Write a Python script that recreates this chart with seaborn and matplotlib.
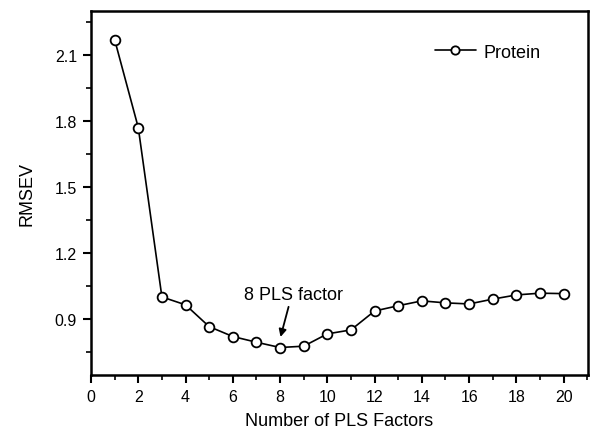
import numpy as np
import pandas as pd
import seaborn as sns
import matplotlib.pyplot as plt
from matplotlib.ticker import MultipleLocator

# valores
factors = list(range(1, 21))
rmsev = [2.17, 1.77, 1.00, 0.964, 0.865, 0.82, 0.794, 0.77, 0.776, 0.832,
         0.85, 0.936, 0.96, 0.982, 0.973, 0.968, 0.99, 1.009, 1.017, 1.015]
series_name = "Protein"

df = pd.DataFrame({"factors": factors, "rmsev": rmsev, "serie": series_name})

sns.set_style("ticks")
plt.rcParams["font.family"] = ["Liberation Sans", "DejaVu Sans"]
plt.rcParams["text.color"] = "black"
plt.rcParams["axes.labelcolor"] = "black"
plt.rcParams["axes.edgecolor"] = "black"
plt.rcParams["xtick.color"] = "black"
plt.rcParams["ytick.color"] = "black"

fig = plt.figure(figsize=(5.9, 4.31), dpi=100)
ax = fig.add_axes([91 / 590, 1 - 376 / 431, (588 - 91) / 590, (376 - 12) / 431])

sns.lineplot(data=df, x="factors", y="rmsev", hue="serie", palette=["black"],
             marker="o", markersize=7, markerfacecolor="white",
             markeredgecolor="black", markeredgewidth=1.3, linewidth=1.2, ax=ax)

ax.set_xlim(0, 21.03)
ax.set_ylim(0.645, 2.3)
ax.xaxis.set_major_locator(MultipleLocator(2))
ax.xaxis.set_minor_locator(MultipleLocator(1))
ax.yaxis.set_minor_locator(MultipleLocator(0.15))
ax.set_yticks([0.9, 1.2, 1.5, 1.8, 2.1])
ax.set_yticklabels(["0.9", "1.2", "1.5", "1.8", "2.1"])
ax.tick_params(which="major", length=6, width=1.5, labelsize=11.5, direction="out", pad=4)
ax.tick_params(which="minor", length=3.5, width=1.2, direction="out")
for s in ax.spines.values():
    s.set_linewidth(1.8)

ax.set_xlabel("Number of PLS Factors", fontsize=13, labelpad=6)
ax.set_ylabel("RMSEV", fontsize=13, labelpad=14)

# flecha y texto del minimo
ax.annotate("", xy=(8.02, 0.818), xytext=(8.36, 0.955),
            arrowprops=dict(arrowstyle="-|>", color="black", lw=1.3,
                            shrinkA=0, shrinkB=0, mutation_scale=11))
ax.text(8.57, 1.01, "8 PLS factor", ha="center", va="center", fontsize=13)

leg = ax.legend(loc="center left", frameon=False, fontsize=13,
                bbox_to_anchor=((435 - 91) / 497, (376 - 53) / 364),
                borderpad=0, borderaxespad=0, handlelength=2.27, handletextpad=0.4)
for h in leg.legend_handles:
    h.set_markersize(6)

fig.savefig("out.png", dpi=100)
